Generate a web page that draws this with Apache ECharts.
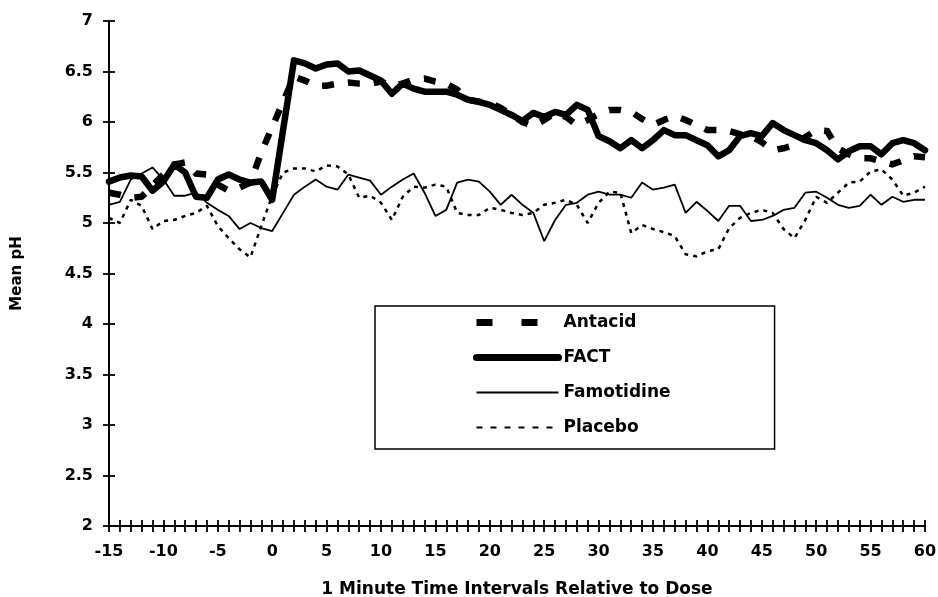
<!DOCTYPE html>
<html>
<head>
<meta charset="utf-8">
<script src="https://cdn.jsdelivr.net/npm/echarts@6/dist/echarts.min.js"></script>
<style>
html,body{margin:0;padding:0;background:#fff;}
#chart{width:938px;height:597px;}
</style>
</head>
<body>
<div id="chart"></div>
<script>
var minutes = [-15,-14,-13,-12,-11,-10,-9,-8,-7,-6,-5,-4,-3,-2,-1,0,1,2,3,4,5,6,7,8,9,10,11,12,13,14,15,16,17,18,19,20,21,22,23,24,25,26,27,28,29,30,31,32,33,34,35,36,37,38,39,40,41,42,43,44,45,46,47,48,49,50,51,52,53,54,55,56,57,58,59,60];

var antacid = [5.30,5.28,5.25,5.26,5.37,5.48,5.58,5.60,5.49,5.48,5.38,5.32,5.35,5.40,5.70,5.95,6.20,6.45,6.41,6.36,6.36,6.38,6.39,6.38,6.38,6.40,6.36,6.38,6.42,6.43,6.40,6.38,6.32,6.22,6.20,6.19,6.14,6.07,6.00,5.96,6.02,6.09,6.05,5.97,6.02,6.08,6.12,6.12,6.10,6.03,5.97,6.02,6.06,6.02,5.97,5.92,5.92,5.91,5.88,5.86,5.80,5.72,5.74,5.77,5.85,5.92,5.91,5.74,5.68,5.64,5.64,5.61,5.58,5.62,5.66,5.65];

var fact = [5.41,5.45,5.47,5.46,5.32,5.41,5.58,5.50,5.26,5.25,5.43,5.48,5.43,5.40,5.41,5.23,5.92,6.61,6.58,6.53,6.57,6.58,6.50,6.51,6.46,6.41,6.28,6.38,6.33,6.30,6.30,6.30,6.27,6.22,6.20,6.17,6.12,6.07,6.01,6.09,6.05,6.10,6.07,6.17,6.12,5.86,5.81,5.74,5.82,5.74,5.82,5.92,5.87,5.87,5.82,5.77,5.66,5.72,5.86,5.89,5.86,5.99,5.92,5.87,5.82,5.79,5.72,5.63,5.71,5.76,5.76,5.68,5.79,5.82,5.79,5.72];

var famotidine = [5.18,5.21,5.43,5.49,5.55,5.43,5.27,5.27,5.30,5.20,5.13,5.07,4.94,5.00,4.95,4.92,5.10,5.28,5.36,5.43,5.36,5.33,5.48,5.45,5.42,5.28,5.36,5.43,5.49,5.30,5.07,5.13,5.40,5.43,5.41,5.31,5.18,5.28,5.18,5.10,4.82,5.03,5.18,5.20,5.28,5.31,5.28,5.28,5.25,5.40,5.33,5.35,5.38,5.10,5.21,5.12,5.02,5.17,5.17,5.02,5.03,5.07,5.13,5.15,5.30,5.31,5.25,5.18,5.15,5.17,5.28,5.18,5.26,5.21,5.23,5.23];

var placebo = [5.05,5.00,5.23,5.17,4.94,5.02,5.03,5.07,5.10,5.17,4.97,4.85,4.74,4.66,4.97,5.27,5.50,5.54,5.54,5.51,5.57,5.56,5.48,5.25,5.27,5.20,5.03,5.26,5.36,5.35,5.38,5.36,5.10,5.08,5.08,5.15,5.13,5.10,5.08,5.10,5.18,5.20,5.23,5.18,5.00,5.20,5.31,5.30,4.90,4.98,4.94,4.91,4.87,4.69,4.67,4.72,4.74,4.95,5.05,5.10,5.13,5.10,4.94,4.85,5.03,5.26,5.20,5.30,5.40,5.41,5.51,5.53,5.43,5.27,5.30,5.36];

var seriesNames = ['Antacid','FACT','Famotidine','Placebo'];
var xAxisTitle = '1 Minute Time Intervals Relative to Dose';
var yAxisTitle = 'Mean pH';

function pairs(vals){ return minutes.map(function(m,i){ return [m, vals[i]]; }); }

var FONT = 'DejaVu Sans';
var chart = echarts.init(document.getElementById('chart'), null, {renderer:'canvas'});

var baseX = {
  type:'value', min:-15, max:60, interval:5, position:'bottom',
  splitLine:{show:false}
};
var baseY = {
  type:'value', min:2, max:7, interval:0.5, position:'left',
  splitLine:{show:false}
};
var hiddenSym = {color:'rgba(0,0,0,0)', borderColor:'rgba(0,0,0,0)', borderWidth:0, opacity:0};

chart.setOption({
  animation:false,
  backgroundColor:'#fff',
  grid:{left:109, right:13, top:21, bottom:71, containLabel:false, outerBoundsMode:'none'},
  xAxis:[
    Object.assign({}, baseX, {
      name:xAxisTitle, nameLocation:'middle', nameGap:55,
      nameTextStyle:{fontFamily:FONT, fontWeight:'bold', fontSize:17, color:'#000'},
      axisLine:{show:true, onZero:false, lineStyle:{color:'#000', width:2}},
      axisTick:{show:true, inside:false, length:6, lineStyle:{color:'#000', width:1.8}},
      minorTick:{show:true, splitNumber:5, length:6, lineStyle:{color:'#000', width:1.8}},
      axisLabel:{show:true, margin:18, fontFamily:FONT, fontWeight:'bold', fontSize:16, color:'#000'}
    }),
    Object.assign({}, baseX, {
      axisLine:{show:false, onZero:false},
      axisTick:{show:true, inside:true, length:6, lineStyle:{color:'#000', width:1.8}},
      minorTick:{show:true, splitNumber:5, length:6, lineStyle:{color:'#000', width:1.8}},
      axisLabel:{show:false}
    })
  ],
  yAxis:[
    Object.assign({}, baseY, {
      name:yAxisTitle, nameLocation:'middle', nameGap:84, nameRotate:90,
      nameTextStyle:{fontFamily:FONT, fontWeight:'bold', fontSize:15, color:'#000'},
      axisLine:{show:true, onZero:false, lineStyle:{color:'#000', width:2}},
      axisTick:{show:true, inside:false, length:6, lineStyle:{color:'#000', width:1.8}},
      axisLabel:{show:true, margin:16, fontFamily:FONT, fontWeight:'bold', fontSize:16, color:'#000'}
    }),
    Object.assign({}, baseY, {
      axisLine:{show:false, onZero:false},
      axisTick:{show:true, inside:true, length:6, lineStyle:{color:'#000', width:1.8}},
      axisLabel:{show:false}
    })
  ],
  legend:{
    show:true, orient:'vertical', left:375, top:306,
    padding:[8,104,13,98], itemGap:18, itemWidth:82, itemHeight:17,
    borderColor:'#000', borderWidth:1.5, backgroundColor:'#fff',
    selectedMode:false,
    textStyle:{fontFamily:FONT, fontWeight:'bold', fontSize:17, color:'#000'},
    data:[
      {name:seriesNames[0], itemStyle:hiddenSym, lineStyle:{type:[16,29], width:7, color:'#000', cap:'butt'}},
      {name:seriesNames[1], itemStyle:hiddenSym, lineStyle:{type:'solid', width:7, color:'#000', cap:'round'}},
      {name:seriesNames[2], itemStyle:hiddenSym, lineStyle:{type:'solid', width:2, color:'#000'}},
      {name:seriesNames[3], itemStyle:hiddenSym, lineStyle:{type:[6,8], width:2, color:'#000'}}
    ]
  },
  series:[
    {name:seriesNames[0], type:'line', data:pairs(antacid), symbol:'none', z:3,
     lineStyle:{color:'#000', width:6.5, type:[12,14], cap:'butt', join:'miter'}, itemStyle:{color:'#000'}},
    {name:seriesNames[1], type:'line', data:pairs(fact), symbol:'none', z:4,
     lineStyle:{color:'#000', width:6.5, type:'solid', cap:'round', join:'round'}, itemStyle:{color:'#000'}},
    {name:seriesNames[2], type:'line', data:pairs(famotidine), symbol:'none', z:2,
     lineStyle:{color:'#000', width:1.8, type:'solid'}, itemStyle:{color:'#000'}},
    {name:seriesNames[3], type:'line', data:pairs(placebo), symbol:'none', z:2,
     lineStyle:{color:'#000', width:2.5, type:[4,5]}, itemStyle:{color:'#000'}}
  ]
});
</script>
</body>
</html>
